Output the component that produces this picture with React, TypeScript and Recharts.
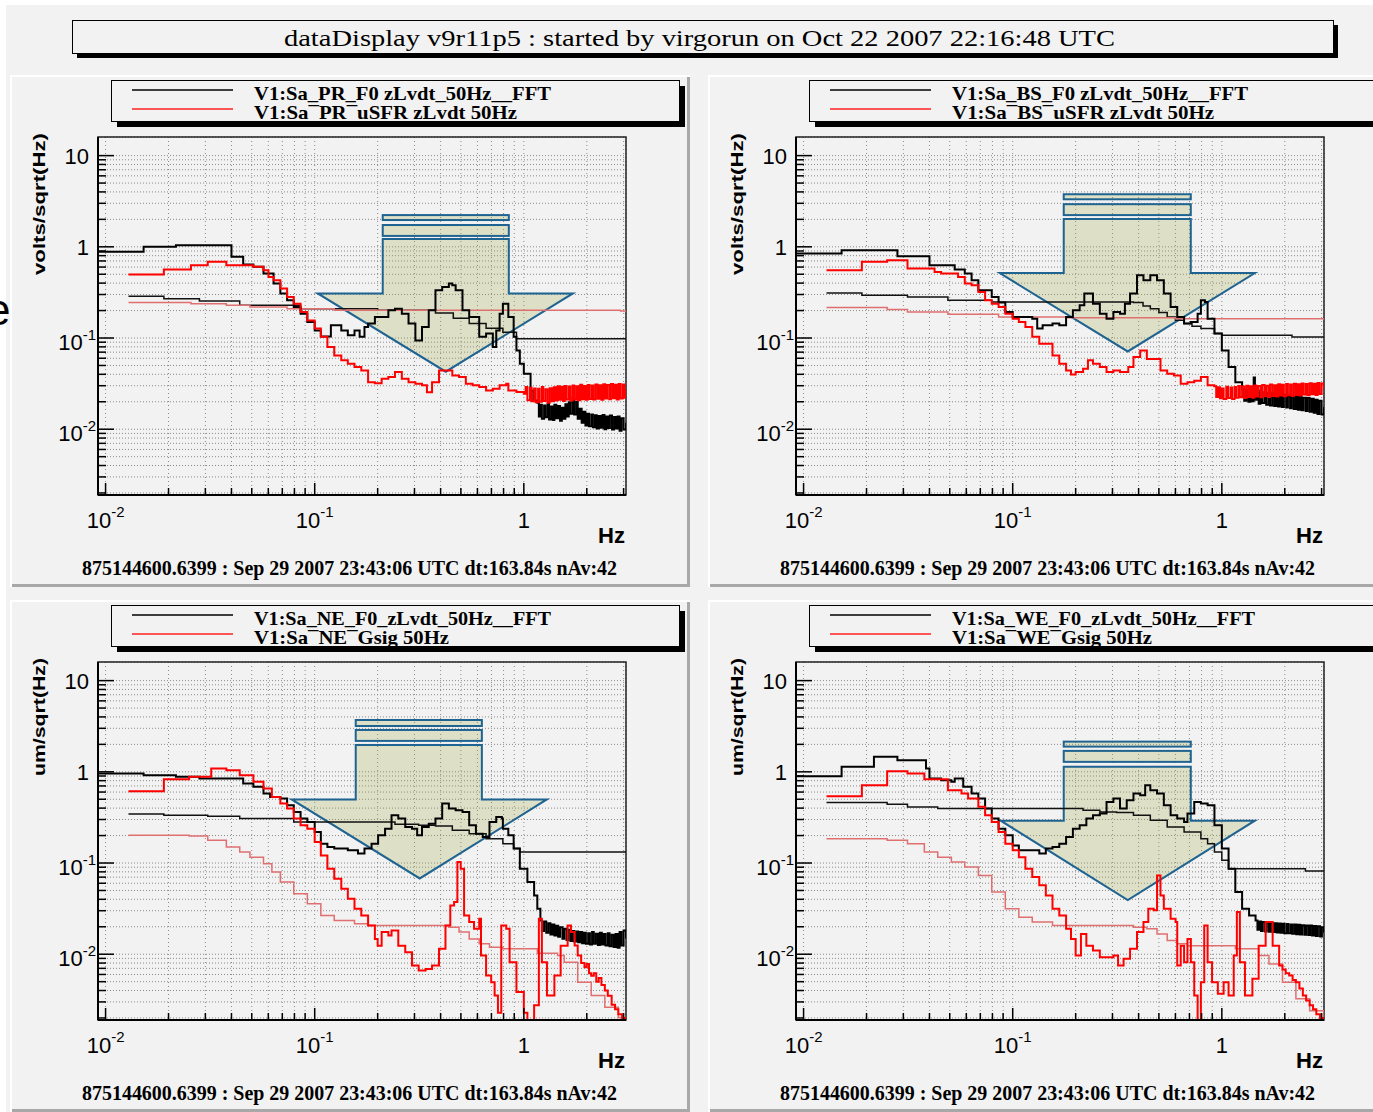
import React from 'react';
import { LineChart, Line, XAxis, YAxis, CartesianGrid, ReferenceArea } from 'recharts';

type Pt = [number, number];

const X_DOMAIN: [number, number] = [0.0092, 3.08];
const Y_DOMAIN: [number, number] = [0.0019, 16];

const X_TICKS = [0.01, 0.02, 0.03, 0.04, 0.05, 0.06, 0.07, 0.08, 0.09, 0.1, 0.2, 0.3, 0.4, 0.5, 0.6, 0.7, 0.8, 0.9, 1, 2, 3];
const Y_TICKS = [
  0.002, 0.003, 0.004, 0.005, 0.006, 0.007, 0.008, 0.009,
  0.01, 0.02, 0.03, 0.04, 0.05, 0.06, 0.07, 0.08, 0.09,
  0.1, 0.2, 0.3, 0.4, 0.5, 0.6, 0.7, 0.8, 0.9,
  1, 2, 3, 4, 5, 6, 7, 8, 9, 10,
];

const X_LABELS = [
  { v: 0.01, base: '10', exp: '-2' },
  { v: 0.1, base: '10', exp: '-1' },
  { v: 1, base: '1', exp: '' },
];
const Y_LABELS = [
  { v: 10, base: '10', exp: '' },
  { v: 1, base: '1', exp: '' },
  { v: 0.1, base: '10', exp: '-1' },
  { v: 0.01, base: '10', exp: '-2' },
];

const TITLE = 'dataDisplay v9r11p5 : started by virgorun on Oct 22 2007 22:16:48 UTC';
const FOOTER = '875144600.6399 : Sep 29 2007 23:43:06 UTC dt:163.84s nAv:42';

// ---- PR ----
const PR_F0: Pt[] = [
  [0.0092, 0.881], [0.0152, 1.0], [0.0217, 1.04], [0.04, 0.776], [0.0455, 0.64], [0.0509, 0.603], [0.0569, 0.509],
  [0.0636, 0.395], [0.0685, 0.307], [0.0738, 0.259], [0.0794, 0.219], [0.0856, 0.185], [0.0922, 0.15], [0.1, 0.121],
  [0.107, 0.104], [0.1195, 0.138], [0.134, 0.121], [0.144, 0.107], [0.155, 0.121], [0.164, 0.103], [0.173, 0.132],
  [0.18, 0.144], [0.194, 0.17], [0.225, 0.201], [0.242, 0.21], [0.261, 0.185], [0.281, 0.144], [0.303, 0.094],
  [0.326, 0.132], [0.351, 0.201], [0.378, 0.334], [0.407, 0.363], [0.438, 0.395], [0.455, 0.379], [0.472, 0.334],
  [0.509, 0.201], [0.548, 0.17], [0.612, 0.103], [0.66, 0.112], [0.711, 0.0796], [0.738, 0.121], [0.766, 0.185],
  [0.794, 0.238], [0.843, 0.17], [0.894, 0.103], [0.922, 0.0732], [0.957, 0.0522], [1.0, 0.0406], [1.077, 0.0266],
  [1.11, 0.0207], [1.16, 0.0195], [1.18, 0.0138], [1.2, 0.0185], [1.22, 0.013], [1.25, 0.0182], [1.27, 0.0135],
  [1.3, 0.019], [1.32, 0.0128], [1.35, 0.0178], [1.38, 0.0126], [1.4, 0.0185], [1.43, 0.0132], [1.46, 0.018],
  [1.49, 0.0124], [1.52, 0.0172], [1.55, 0.013], [1.58, 0.0188], [1.61, 0.0138], [1.64, 0.0198], [1.67, 0.0148],
  [1.71, 0.0225], [1.74, 0.0145], [1.78, 0.02], [1.81, 0.013], [1.85, 0.0168], [1.89, 0.0118], [1.93, 0.0155],
  [1.97, 0.011], [2.01, 0.0148], [2.05, 0.0108], [2.1, 0.0145], [2.14, 0.0105], [2.19, 0.0142], [2.23, 0.0102],
  [2.28, 0.014], [2.33, 0.0104], [2.38, 0.0143], [2.43, 0.01], [2.48, 0.0138], [2.53, 0.0103], [2.58, 0.0141],
  [2.64, 0.0099], [2.7, 0.0136], [2.75, 0.0102], [2.81, 0.0138], [2.87, 0.0096], [2.93, 0.0132], [3.0, 0.0099],
  [3.08, 0.0118],
];
const PR_F0_REF: Pt[] = [
  [0.01287, 0.287], [0.019, 0.27], [0.0281, 0.255], [0.0438, 0.229], [0.0856, 0.21], [0.2, 0.201], [0.378, 0.188],
  [0.46, 0.165], [0.548, 0.144], [0.66, 0.128], [0.794, 0.116], [0.922, 0.098], [3.08, 0.096],
];
const PR_USFR: Pt[] = [
  [0.01287, 0.497], [0.019, 0.564], [0.0256, 0.629], [0.0308, 0.684], [0.0378, 0.629], [0.0509, 0.603],
  [0.0569, 0.554], [0.0601, 0.468], [0.0636, 0.43], [0.0685, 0.349], [0.0738, 0.282], [0.0794, 0.238],
  [0.0856, 0.193], [0.0922, 0.156], [0.1, 0.127], [0.107, 0.103], [0.115, 0.0796], [0.124, 0.0645], [0.134, 0.0569],
  [0.144, 0.0522], [0.155, 0.048], [0.167, 0.0441], [0.18, 0.0328], [0.194, 0.032], [0.209, 0.0357], [0.225, 0.0373],
  [0.242, 0.0423], [0.261, 0.0357], [0.281, 0.0328], [0.303, 0.0315], [0.326, 0.0303], [0.344, 0.0255],
  [0.364, 0.0328], [0.393, 0.0441], [0.422, 0.0441], [0.455, 0.0389], [0.49, 0.0373], [0.528, 0.0315],
  [0.569, 0.0303], [0.612, 0.029], [0.66, 0.0266], [0.711, 0.0278], [0.766, 0.0303], [0.824, 0.0315],
  [0.843, 0.0266], [0.922, 0.0256], [1.0, 0.0245], [1.02, 0.029], [1.04, 0.0208], [1.07, 0.0285], [1.09, 0.0202],
  [1.12, 0.028], [1.14, 0.0198], [1.17, 0.0278], [1.19, 0.02], [1.22, 0.029], [1.24, 0.0204], [1.27, 0.0275],
  [1.3, 0.0195], [1.33, 0.0282], [1.36, 0.0202], [1.39, 0.0288], [1.42, 0.0207], [1.45, 0.0296], [1.48, 0.021],
  [1.51, 0.0292], [1.54, 0.0204], [1.57, 0.0298], [1.6, 0.0212], [1.64, 0.0294], [1.67, 0.0206], [1.71, 0.0302],
  [1.74, 0.0212], [1.78, 0.0296], [1.82, 0.0208], [1.86, 0.0308], [1.9, 0.0213], [1.94, 0.0298], [1.98, 0.021],
  [2.02, 0.0305], [2.06, 0.0214], [2.11, 0.0302], [2.15, 0.0212], [2.2, 0.031], [2.25, 0.0216], [2.3, 0.0303],
  [2.35, 0.021], [2.4, 0.0312], [2.45, 0.0217], [2.5, 0.0306], [2.56, 0.0213], [2.61, 0.0314], [2.67, 0.0219],
  [2.72, 0.0308], [2.78, 0.0212], [2.84, 0.0313], [2.9, 0.0217], [2.97, 0.031], [3.03, 0.0221], [3.08, 0.027],
];
const PR_USFR_REF: Pt[] = [
  [0.01287, 0.245], [0.0256, 0.238], [0.0378, 0.229], [0.049, 0.219], [0.0738, 0.21], [0.124, 0.201], [2.9, 0.198],
  [3.08, 0.198],
];

// ---- BS ----
const BS_F0: Pt[] = [
  [0.0092, 0.845], [0.0152, 0.919], [0.0281, 0.79], [0.04, 0.629], [0.0528, 0.564], [0.059, 0.509], [0.0636, 0.43],
  [0.0685, 0.334], [0.0794, 0.282], [0.0856, 0.245], [0.0922, 0.193], [0.1, 0.17], [0.124, 0.163], [0.131, 0.127],
  [0.139, 0.138], [0.155, 0.144], [0.167, 0.138], [0.18, 0.17], [0.194, 0.201], [0.209, 0.229], [0.22, 0.307],
  [0.242, 0.238], [0.261, 0.185], [0.281, 0.163], [0.303, 0.193], [0.326, 0.185], [0.344, 0.238], [0.364, 0.307],
  [0.393, 0.488], [0.422, 0.43], [0.455, 0.488], [0.49, 0.43], [0.528, 0.307], [0.569, 0.219], [0.612, 0.17],
  [0.66, 0.144], [0.711, 0.15], [0.766, 0.185], [0.794, 0.259], [0.83, 0.249], [0.855, 0.163], [0.922, 0.112],
  [1.0, 0.0732], [1.077, 0.048], [1.16, 0.0328], [1.25, 0.0275], [1.28, 0.0205], [1.31, 0.027], [1.34, 0.02],
  [1.37, 0.026], [1.4, 0.0202], [1.42, 0.037], [1.44, 0.021], [1.47, 0.0265], [1.5, 0.019], [1.53, 0.0258],
  [1.56, 0.0194], [1.6, 0.0255], [1.63, 0.0185], [1.67, 0.025], [1.7, 0.0182], [1.74, 0.0248], [1.78, 0.018],
  [1.82, 0.0245], [1.86, 0.0177], [1.9, 0.0242], [1.94, 0.0175], [1.98, 0.0238], [2.03, 0.0173], [2.07, 0.0235],
  [2.12, 0.017], [2.16, 0.0232], [2.21, 0.0167], [2.26, 0.023], [2.31, 0.0164], [2.36, 0.0225], [2.41, 0.0161],
  [2.46, 0.0222], [2.52, 0.0158], [2.57, 0.022], [2.63, 0.0155], [2.69, 0.0216], [2.75, 0.0152], [2.81, 0.021],
  [2.87, 0.0147], [2.93, 0.0205], [3.0, 0.0145], [3.08, 0.0175],
];
const BS_F0_REF: Pt[] = [
  [0.01287, 0.312], [0.019, 0.294], [0.0314, 0.282], [0.049, 0.259], [0.0794, 0.249], [0.378, 0.245], [0.42, 0.225],
  [0.455, 0.21], [0.5, 0.19], [0.548, 0.17], [0.6, 0.157], [0.66, 0.144], [0.72, 0.135], [0.794, 0.127],
  [0.922, 0.112], [1.0, 0.107], [2.165, 0.1026], [3.08, 0.1026],
];
const BS_USFR: Pt[] = [
  [0.01287, 0.554], [0.019, 0.684], [0.0251, 0.714], [0.0314, 0.578], [0.0423, 0.531], [0.0455, 0.509],
  [0.0548, 0.468], [0.059, 0.395], [0.0636, 0.379], [0.0685, 0.32], [0.0738, 0.259], [0.0794, 0.238],
  [0.0856, 0.219], [0.0922, 0.185], [0.1, 0.163], [0.107, 0.15], [0.115, 0.132], [0.124, 0.103], [0.134, 0.0867],
  [0.155, 0.0645], [0.167, 0.0522], [0.18, 0.0441], [0.19, 0.0399], [0.2, 0.0423], [0.217, 0.046], [0.229, 0.0569],
  [0.242, 0.0522], [0.261, 0.048], [0.281, 0.0423], [0.303, 0.0441], [0.326, 0.0423], [0.357, 0.048],
  [0.378, 0.0618], [0.407, 0.0732], [0.438, 0.059], [0.509, 0.0441], [0.548, 0.0405], [0.59, 0.0389],
  [0.636, 0.0315], [0.685, 0.0328], [0.738, 0.0341], [0.794, 0.0373], [0.855, 0.0303], [0.92, 0.0295],
  [0.94, 0.0225], [0.96, 0.0288], [0.98, 0.0218], [1.0, 0.028], [1.02, 0.0214], [1.05, 0.0292], [1.07, 0.022],
  [1.1, 0.0286], [1.12, 0.0215], [1.15, 0.029], [1.17, 0.0222], [1.2, 0.0298], [1.22, 0.0224], [1.25, 0.0294],
  [1.28, 0.022], [1.31, 0.03], [1.34, 0.0226], [1.37, 0.0296], [1.4, 0.0222], [1.43, 0.0302], [1.46, 0.0228],
  [1.49, 0.0298], [1.53, 0.0224], [1.56, 0.0305], [1.6, 0.023], [1.63, 0.03], [1.67, 0.0226], [1.7, 0.031],
  [1.74, 0.0232], [1.78, 0.0304], [1.82, 0.0229], [1.86, 0.0312], [1.9, 0.0234], [1.94, 0.0307], [1.98, 0.023],
  [2.03, 0.0314], [2.07, 0.0236], [2.12, 0.031], [2.16, 0.0232], [2.21, 0.0316], [2.26, 0.0238], [2.31, 0.0312],
  [2.36, 0.0234], [2.41, 0.0318], [2.46, 0.024], [2.52, 0.0314], [2.57, 0.0236], [2.63, 0.032], [2.69, 0.0242],
  [2.75, 0.0316], [2.81, 0.0238], [2.87, 0.0322], [2.93, 0.0244], [3.0, 0.0318], [3.08, 0.0275],
];
const BS_USFR_REF: Pt[] = [
  [0.01287, 0.216], [0.0251, 0.205], [0.0314, 0.193], [0.049, 0.182], [0.0856, 0.17], [0.18, 0.167], [0.6, 0.163],
  [3.08, 0.16],
];

// ---- NE ----
const NE_F0: Pt[] = [
  [0.0092, 0.959], [0.0152, 0.919], [0.0217, 0.881], [0.0281, 0.845], [0.0455, 0.745], [0.0509, 0.684],
  [0.0569, 0.578], [0.0612, 0.531], [0.0685, 0.509], [0.0738, 0.43], [0.0794, 0.363], [0.0856, 0.307],
  [0.0922, 0.282], [0.1, 0.219], [0.107, 0.163], [0.115, 0.15], [0.124, 0.144], [0.144, 0.138], [0.161, 0.127],
  [0.173, 0.144], [0.187, 0.163], [0.201, 0.201], [0.217, 0.238], [0.233, 0.334], [0.251, 0.307], [0.271, 0.249],
  [0.292, 0.238], [0.309, 0.201], [0.326, 0.249], [0.351, 0.27], [0.378, 0.307], [0.407, 0.449], [0.438, 0.395],
  [0.472, 0.379], [0.509, 0.363], [0.548, 0.259], [0.59, 0.21], [0.636, 0.193], [0.685, 0.282], [0.738, 0.32],
  [0.785, 0.307], [0.794, 0.238], [0.843, 0.201], [0.894, 0.144], [0.957, 0.0867], [1.04, 0.0618], [1.12, 0.0441],
  [1.16, 0.0315], [1.2, 0.0235], [1.22, 0.018], [1.25, 0.0228], [1.28, 0.0172], [1.31, 0.0218], [1.34, 0.0165],
  [1.37, 0.0212], [1.4, 0.016], [1.43, 0.0205], [1.46, 0.0155], [1.49, 0.0198], [1.53, 0.0148], [1.56, 0.019],
  [1.6, 0.0143], [1.63, 0.0185], [1.67, 0.014], [1.7, 0.018], [1.74, 0.0138], [1.78, 0.0177], [1.82, 0.0135],
  [1.86, 0.0175], [1.9, 0.0132], [1.94, 0.0172], [1.98, 0.013], [2.03, 0.017], [2.07, 0.0128], [2.12, 0.0175],
  [2.16, 0.013], [2.21, 0.0168], [2.26, 0.0126], [2.31, 0.0172], [2.36, 0.0128], [2.41, 0.0167], [2.46, 0.0125],
  [2.52, 0.017], [2.57, 0.0122], [2.63, 0.0164], [2.69, 0.012], [2.75, 0.0167], [2.81, 0.0118], [2.87, 0.0175],
  [2.93, 0.0125], [3.0, 0.0182], [3.08, 0.015],
];
const NE_F0_REF: Pt[] = [
  [0.01287, 0.345], [0.019, 0.334], [0.0308, 0.326], [0.0438, 0.307], [0.0794, 0.282], [0.242, 0.266],
  [0.314, 0.259], [0.378, 0.255], [0.455, 0.229], [0.548, 0.21], [0.66, 0.185], [0.794, 0.163], [0.894, 0.144],
  [0.957, 0.132], [3.08, 0.132],
];
const NE_GSIG: Pt[] = [
  [0.01287, 0.613], [0.019, 0.831], [0.0251, 0.881], [0.032, 1.088], [0.0378, 1.04], [0.0438, 0.919],
  [0.0509, 0.776], [0.0569, 0.656], [0.0624, 0.531], [0.0685, 0.449], [0.0738, 0.395], [0.0794, 0.307],
  [0.0856, 0.259], [0.0922, 0.238], [0.1, 0.17], [0.107, 0.121], [0.115, 0.0867], [0.124, 0.0673], [0.134, 0.0522],
  [0.144, 0.0406], [0.155, 0.0315], [0.167, 0.0266], [0.18, 0.0207], [0.194, 0.0147], [0.2, 0.0124],
  [0.209, 0.0175], [0.225, 0.016], [0.233, 0.0182], [0.251, 0.0124], [0.271, 0.0105], [0.292, 0.0075],
  [0.314, 0.00662], [0.339, 0.0069], [0.364, 0.0075], [0.393, 0.01145], [0.422, 0.0207], [0.445, 0.0343],
  [0.464, 0.0373], [0.481, 0.1026], [0.499, 0.0867], [0.518, 0.0266], [0.548, 0.0225], [0.578, 0.019],
  [0.612, 0.0245], [0.624, 0.00967], [0.66, 0.00583], [0.698, 0.00492], [0.725, 0.00352], [0.752, 0.00228],
  [0.78, 0.0207], [0.824, 0.019], [0.855, 0.00817], [0.922, 0.00385], [1.0, 0.00228], [1.04, 0.00187],
  [1.12, 0.00275], [1.18, 0.0245], [1.22, 0.00817], [1.29, 0.00352], [1.4, 0.00583], [1.5, 0.0124],
  [1.62, 0.0207], [1.68, 0.0175], [1.75, 0.0125], [1.81, 0.0097], [1.88, 0.008], [1.95, 0.0072], [2.0, 0.0078],
  [2.05, 0.0062], [2.1, 0.0058], [2.16, 0.0062], [2.22, 0.005], [2.28, 0.0055], [2.35, 0.0046], [2.44, 0.004],
  [2.52, 0.0035], [2.63, 0.0028], [2.73, 0.0025], [2.83, 0.0022], [2.95, 0.002], [3.08, 0.0018],
];
const NE_GSIG_REF: Pt[] = [
  [0.01287, 0.201], [0.0251, 0.198], [0.0308, 0.178], [0.0378, 0.15], [0.0438, 0.132], [0.049, 0.116],
  [0.0569, 0.098], [0.0624, 0.0796], [0.0685, 0.0618], [0.0794, 0.046], [0.0922, 0.0357], [0.107, 0.0266],
  [0.124, 0.0235], [0.155, 0.0216], [0.18, 0.0207], [0.438, 0.0198], [0.49, 0.0175], [0.548, 0.0147],
  [0.612, 0.013], [0.685, 0.0119], [0.794, 0.01145], [1.16, 0.01025], [1.45, 0.00967], [1.56, 0.00817],
  [1.81, 0.00492], [2.1, 0.00352], [2.44, 0.00262], [2.83, 0.00203], [3.08, 0.0018],
];

// ---- WE ----
const WE_F0: Pt[] = [
  [0.0092, 0.896], [0.0152, 1.135], [0.0217, 1.46], [0.0281, 1.343], [0.0385, 1.088], [0.04, 0.845],
  [0.0455, 0.81], [0.0509, 0.776], [0.0528, 0.845], [0.058, 0.684], [0.0636, 0.578], [0.0685, 0.509],
  [0.0738, 0.395], [0.0794, 0.307], [0.0856, 0.238], [0.0922, 0.201], [0.1, 0.156], [0.107, 0.138],
  [0.124, 0.138], [0.134, 0.127], [0.144, 0.144], [0.155, 0.15], [0.167, 0.163], [0.18, 0.193], [0.194, 0.238],
  [0.209, 0.259], [0.225, 0.307], [0.242, 0.334], [0.261, 0.349], [0.281, 0.468], [0.303, 0.509], [0.326, 0.395],
  [0.351, 0.488], [0.378, 0.578], [0.407, 0.554], [0.43, 0.714], [0.455, 0.629], [0.49, 0.578], [0.528, 0.43],
  [0.569, 0.334], [0.612, 0.307], [0.66, 0.282], [0.685, 0.349], [0.738, 0.468], [0.794, 0.449], [0.855, 0.43],
  [0.922, 0.259], [1.0, 0.144], [1.077, 0.0867], [1.16, 0.048], [1.25, 0.0315], [1.35, 0.0266], [1.45, 0.0235],
  [1.48, 0.0185], [1.51, 0.0228], [1.54, 0.018], [1.57, 0.0225], [1.61, 0.0178], [1.64, 0.0222], [1.68, 0.0176],
  [1.71, 0.022], [1.75, 0.0175], [1.79, 0.0218], [1.83, 0.0173], [1.87, 0.0217], [1.91, 0.0172], [1.95, 0.0216],
  [1.99, 0.017], [2.04, 0.0214], [2.08, 0.017], [2.13, 0.0212], [2.17, 0.0168], [2.22, 0.0212], [2.27, 0.0166],
  [2.32, 0.021], [2.37, 0.0165], [2.42, 0.0208], [2.48, 0.0164], [2.53, 0.0207], [2.59, 0.0162], [2.64, 0.0206],
  [2.7, 0.016], [2.76, 0.0204], [2.82, 0.0158], [2.88, 0.0202], [2.95, 0.0156], [3.01, 0.0198], [3.08, 0.0172],
];
const WE_F0_REF: Pt[] = [
  [0.01287, 0.46], [0.0251, 0.441], [0.0314, 0.412], [0.0438, 0.395], [0.217, 0.379], [0.261, 0.363],
  [0.314, 0.358], [0.378, 0.334], [0.455, 0.294], [0.548, 0.249], [0.66, 0.219], [0.794, 0.185], [0.855, 0.163],
  [0.922, 0.132], [1.0, 0.107], [1.077, 0.0867], [2.51, 0.0817], [3.08, 0.0817],
];
const WE_GSIG: Pt[] = [
  [0.01287, 0.54], [0.019, 0.714], [0.0251, 1.017], [0.0314, 0.959], [0.0378, 0.831], [0.049, 0.629],
  [0.0569, 0.578], [0.0612, 0.509], [0.0685, 0.413], [0.0738, 0.334], [0.0794, 0.282], [0.0856, 0.219],
  [0.0922, 0.163], [0.1, 0.138], [0.107, 0.116], [0.115, 0.0867], [0.124, 0.0702], [0.134, 0.0569], [0.144, 0.0441],
  [0.155, 0.0315], [0.167, 0.0266], [0.18, 0.019], [0.19, 0.0147], [0.2, 0.00967], [0.212, 0.0167], [0.225, 0.0124],
  [0.242, 0.011], [0.261, 0.00927], [0.281, 0.00927], [0.303, 0.00967], [0.319, 0.0075], [0.339, 0.0089],
  [0.364, 0.01145], [0.393, 0.0175], [0.422, 0.0225], [0.445, 0.0315], [0.472, 0.0303], [0.49, 0.0732],
  [0.509, 0.0441], [0.528, 0.0315], [0.569, 0.0245], [0.601, 0.0225], [0.612, 0.0075], [0.636, 0.0124],
  [0.66, 0.00817], [0.685, 0.0147], [0.711, 0.00817], [0.738, 0.00352], [0.766, 0.0018], [0.794, 0.00492],
  [0.824, 0.0207], [0.855, 0.00817], [0.898, 0.00492], [0.957, 0.00368], [1.02, 0.00492], [1.077, 0.00352],
  [1.14, 0.00967], [1.18, 0.029], [1.22, 0.00817], [1.29, 0.00352], [1.4, 0.0054], [1.5, 0.0124], [1.62, 0.0225],
  [1.75, 0.0124], [1.88, 0.0075], [1.95, 0.0068], [2.02, 0.0062], [2.1, 0.00583], [2.18, 0.0052], [2.26, 0.00492],
  [2.35, 0.0042], [2.44, 0.00352], [2.53, 0.0031], [2.63, 0.00275], [2.73, 0.0025], [2.83, 0.0022],
  [2.95, 0.002], [3.08, 0.0018],
];
const WE_GSIG_REF: Pt[] = [
  [0.01287, 0.185], [0.0251, 0.178], [0.0314, 0.163], [0.0378, 0.132], [0.0438, 0.116], [0.0509, 0.1026],
  [0.059, 0.0904], [0.0685, 0.0732], [0.0794, 0.048], [0.0922, 0.0315], [0.107, 0.0255], [0.124, 0.0225],
  [0.155, 0.0207], [0.378, 0.0198], [0.438, 0.019], [0.49, 0.0167], [0.548, 0.0141], [0.612, 0.013],
  [0.685, 0.0124], [1.16, 0.01145], [1.5, 0.00967], [1.68, 0.0078], [1.95, 0.00492], [2.26, 0.00324],
  [2.63, 0.0024], [3.08, 0.0018],
];

// arrow overlay, in data units: x = [head left, shaft left, tip, shaft right, head right]
// y = [bar1 top, bar1 bottom, bar2 top, bar2 bottom, shaft top, head top, tip]
const ARROW_PR_X = [0.1034, 0.2115, 0.4234, 0.8476, 1.716];
const ARROW_PR_Y = [2.228, 1.966, 1.734, 1.317, 1.222, 0.3084, 0.0427];
const ARROW_BS_X = [0.0867, 0.1754, 0.3549, 0.7106, 1.438];
const ARROW_BS_Y = [3.77, 3.32, 2.934, 2.228, 2.015, 0.515, 0.0712];
const ARROW_NE_X = [0.0776, 0.1571, 0.318, 0.63, 1.288];
const ARROW_NE_Y = [3.7, 3.18, 2.877, 2.183, 1.973, 0.498, 0.0677];
const ARROW_WE_X = [0.0876, 0.1754, 0.355, 0.7106, 1.438];
const ARROW_WE_Y = [2.143, 1.89, 1.696, 1.286, 1.134, 0.2914, 0.0392];

const SERIF = '"Liberation Serif", "Times New Roman", serif';
const SANS = '"Liberation Sans", Arial, sans-serif';
const BG = '#f2f2f2';
const ARROW_FILL = 'rgba(160,170,70,0.25)';
const ARROW_EDGE = '#1f6391';

const PANELS = [
  {
    key: 'PR', left: 10, top: 75,
    legend: ['V1:Sa_PR_F0 zLvdt_50Hz__FFT', 'V1:Sa\u00AFPR\u00AFuSFR zLvdt 50Hz'], legendW: [297, 263],
    yTitle: 'volts/sqrt(Hz)', yTitleW: 142,
    black: PR_F0, blackRef: PR_F0_REF, red: PR_USFR, redRef: PR_USFR_REF, ax: ARROW_PR_X, ay: ARROW_PR_Y,
  },
  {
    key: 'BS', left: 708, top: 75,
    legend: ['V1:Sa_BS_F0 zLvdt_50Hz__FFT', 'V1:Sa\u00AFBS\u00AFuSFR zLvdt 50Hz'], legendW: [296, 262],
    yTitle: 'volts/sqrt(Hz)', yTitleW: 142,
    black: BS_F0, blackRef: BS_F0_REF, red: BS_USFR, redRef: BS_USFR_REF, ax: ARROW_BS_X, ay: ARROW_BS_Y,
  },
  {
    key: 'NE', left: 10, top: 600,
    legend: ['V1:Sa_NE_F0_zLvdt_50Hz__FFT', 'V1:Sa\u00AFNE\u00AFGsig 50Hz'], legendW: [297, 195],
    yTitle: 'um/sqrt(Hz)', yTitleW: 118,
    black: NE_F0, blackRef: NE_F0_REF, red: NE_GSIG, redRef: NE_GSIG_REF, ax: ARROW_NE_X, ay: ARROW_NE_Y,
  },
  {
    key: 'WE', left: 708, top: 600,
    legend: ['V1:Sa_WE_F0_zLvdt_50Hz__FFT', 'V1:Sa\u00AFWE\u00AFGsig 50Hz'], legendW: [303, 200],
    yTitle: 'um/sqrt(Hz)', yTitleW: 118,
    black: WE_F0, blackRef: WE_F0_REF, red: WE_GSIG, redRef: WE_GSIG_REF, ax: ARROW_WE_X, ay: ARROW_WE_Y,
  },
];

const pts = (a: Pt[]) => a.map(([f, v]) => ({ f, v }));

const findLabel = (labels: typeof X_LABELS, v: number) => labels.find(l => Math.abs(l.v - v) < v * 1e-6);

const YTick = (props: any) => {
  const { x, y, payload } = props;
  const lab = findLabel(Y_LABELS, payload.value);
  return (
    <g>
      <line x1={x} x2={x + (lab ? 16 : 8)} y1={y} y2={y} stroke="#000" strokeWidth={1.5} />
      {lab && (
        <text x={lab.exp ? x - 2 : x - 9} y={y + (lab.exp ? 12 : 8)} textAnchor="end" fontFamily={SANS} fontSize={22} fill="#000">
          {lab.base}
          {lab.exp && <tspan dy={-10} fontSize={15}>{lab.exp}</tspan>}
        </text>
      )}
    </g>
  );
};

const XTick = (props: any) => {
  const { x, y, payload } = props;
  const lab = findLabel(X_LABELS, payload.value);
  return (
    <g>
      <line x1={x} x2={x} y1={y} y2={y - (lab ? 12 : 7)} stroke="#000" strokeWidth={1.5} />
      {lab && (
        <text x={x} y={y + 33} textAnchor="middle" fontFamily={SANS} fontSize={22} fill="#000">
          {lab.base}
          {lab.exp && <tspan dy={-11} fontSize={15}>{lab.exp}</tspan>}
        </text>
      )}
    </g>
  );
};

const arrowShape = (ax: number[], ay: number[]) => (props: any) => {
  const x0 = Math.min(props.x, props.x + props.width);
  const w = Math.abs(props.width);
  const y0 = Math.min(props.y, props.y + props.height);
  const h = Math.abs(props.height);
  const px = (f: number) => x0 + (w * Math.log(f / ax[0])) / Math.log(ax[4] / ax[0]);
  const py = (v: number) => y0 + (h * Math.log(ay[0] / v)) / Math.log(ay[0] / ay[6]);
  const [hl, sl, tp, sr, hr] = ax.map(px);
  const [b1t, b1b, b2t, b2b, st, ht, tip] = ay.map(py);
  const poly = [[sl, st], [sr, st], [sr, ht], [hr, ht], [tp, tip], [hl, ht], [sl, ht]].map(q => q.join(',')).join(' ');
  return (
    <g>
      <rect x={sl} y={b1t} width={sr - sl} height={b1b - b1t} fill={ARROW_FILL} stroke={ARROW_EDGE} strokeWidth={2} />
      <rect x={sl} y={b2t} width={sr - sl} height={b2b - b2t} fill={ARROW_FILL} stroke={ARROW_EDGE} strokeWidth={2} />
      <polygon points={poly} fill={ARROW_FILL} stroke={ARROW_EDGE} strokeWidth={2} />
    </g>
  );
};

const Panel = ({ p }: { p: (typeof PANELS)[number] }) => (
  <div
    style={{
      position: 'absolute', left: p.left, top: p.top, width: 680, height: 512, background: BG,
      boxShadow: 'inset 2px 2px 0 #ffffff, inset -3px -3px 0 #a8a8a8',
    }}
  >
    <svg width={680} height={512} style={{ position: 'absolute', left: 0, top: 0 }}>
      <rect x={107} y={11} width={568} height={41} fill="#000" />
      <rect x={101.5} y={5.5} width={568} height={41} fill={BG} stroke="#000" strokeWidth={1} />
      <line x1={122} x2={223} y1={15} y2={15} stroke="#000" strokeWidth={1.5} />
      <line x1={122} x2={223} y1={34} y2={34} stroke="#ff2020" strokeWidth={1.5} />
      <text x={244} y={25} fontFamily={SERIF} fontWeight="bold" fontSize={19} textLength={p.legendW[0]} lengthAdjust="spacingAndGlyphs">{p.legend[0]}</text>
      <text x={244} y={44} fontFamily={SERIF} fontWeight="bold" fontSize={19} textLength={p.legendW[1]} lengthAdjust="spacingAndGlyphs">{p.legend[1]}</text>
      <text transform="rotate(-90)" x={-58} y={35} textAnchor="end" fontFamily={SANS} fontWeight="bold" fontSize={17} textLength={p.yTitleW} lengthAdjust="spacingAndGlyphs">{p.yTitle}</text>
      <text x={615} y={468} textAnchor="end" fontFamily={SANS} fontWeight="bold" fontSize={22} textLength={27} lengthAdjust="spacingAndGlyphs">Hz</text>
      <text x={72} y={500} fontFamily={SERIF} fontWeight="bold" fontSize={20} textLength={535} lengthAdjust="spacingAndGlyphs">{FOOTER}</text>
    </svg>
    <div style={{ position: 'absolute', left: 0, top: 0 }}>
      <LineChart width={680} height={512} margin={{ top: 62, right: 64, left: 0, bottom: 0 }}>
        <CartesianGrid horizontal={false} stroke="#8a8a8a" strokeDasharray="1 3" />
        <CartesianGrid vertical={false} stroke="#8a8a8a" strokeDasharray="1 2" />
        <XAxis
          dataKey="f" type="number" scale="log" domain={X_DOMAIN} allowDataOverflow ticks={X_TICKS} interval={0}
          height={92} tickSize={0} tickMargin={0} tick={XTick} axisLine={{ stroke: '#000', strokeWidth: 2 }} tickLine={false}
        />
        <YAxis
          dataKey="v" type="number" scale="log" domain={Y_DOMAIN} allowDataOverflow ticks={Y_TICKS} interval={0}
          width={88} tickSize={0} tickMargin={0} tick={YTick} axisLine={{ stroke: '#000', strokeWidth: 2 }} tickLine={false}
        />
        <ReferenceArea x1={X_DOMAIN[0]} x2={X_DOMAIN[1]} y1={Y_DOMAIN[0]} y2={Y_DOMAIN[1]} fill="none" stroke="#222" strokeWidth={1.5} />
        <Line data={pts(p.blackRef)} dataKey="v" type="stepAfter" stroke="#111" strokeWidth={1.5} dot={false} isAnimationActive={false} />
        <Line data={pts(p.redRef)} dataKey="v" type="stepAfter" stroke="#e07070" strokeWidth={1.5} dot={false} isAnimationActive={false} />
        <Line data={pts(p.black)} dataKey="v" type="stepAfter" stroke="#000" strokeWidth={2} dot={false} isAnimationActive={false} />
        <Line data={pts(p.red)} dataKey="v" type="stepAfter" stroke="#ff0000" strokeWidth={2} dot={false} isAnimationActive={false} />
        <ReferenceArea
          x1={p.ax[0]} x2={p.ax[4]} y1={p.ay[6]} y2={p.ay[0]} ifOverflow="visible" shape={arrowShape(p.ax, p.ay)}
        />
      </LineChart>
    </div>
  </div>
);

export default function App() {
  return (
    <div style={{ position: 'absolute', left: 0, top: 0, width: 1373, height: 1112, overflow: 'hidden', background: '#fff' }}>
      <svg width={1373} height={1112} style={{ position: 'absolute', left: 0, top: 0 }}>
        <rect x={6} y={5} width={1367} height={1107} fill={BG} />
        <rect x={77} y={25} width={1261} height={33} fill="#000" />
        <rect x={72.5} y={20.5} width={1261} height={33} fill={BG} stroke="#000" strokeWidth={1} />
        <text x={284} y={46} fontFamily={SERIF} fontSize={24} textLength={831} lengthAdjust="spacingAndGlyphs">{TITLE}</text>
        <text x={-14} y={325} fontFamily={SANS} fontSize={44}>e</text>
      </svg>
      {PANELS.map(p => (
        <Panel key={p.key} p={p} />
      ))}
    </div>
  );
}
